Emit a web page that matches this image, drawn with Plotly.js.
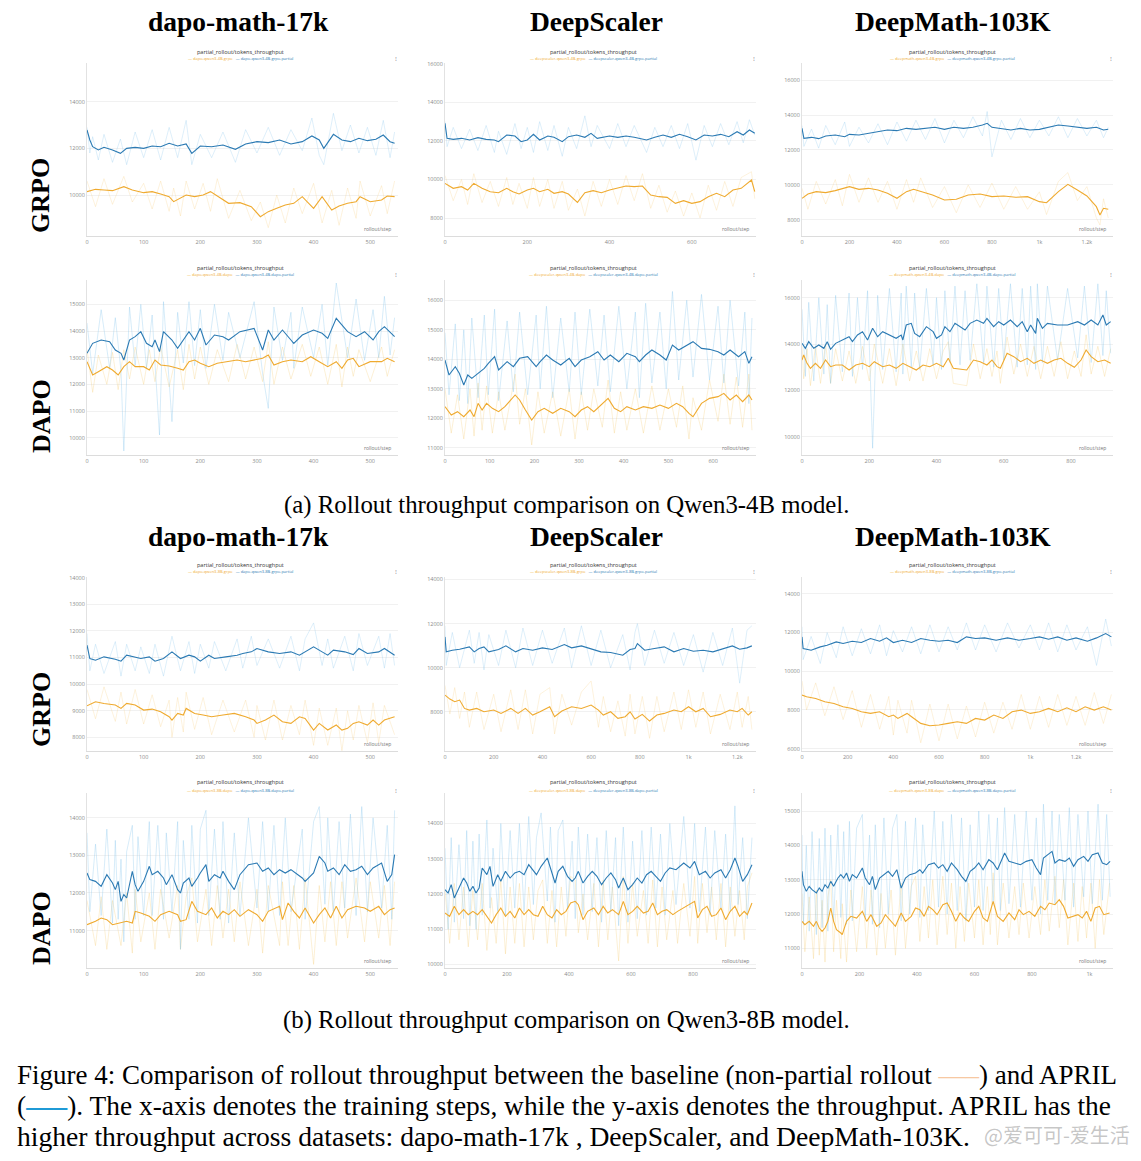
<!DOCTYPE html>
<html><head><meta charset="utf-8">
<script src="https://cdn.plot.ly/plotly-3.0.1.min.js"></script>
<style>html,body{margin:0;padding:0;background:#fff}#chart{width:1141px;height:1161px}</style>
</head><body><div id="chart"></div>
<script>
// ---------- text ----------
const colTitles = ['dapo-math-17k', 'DeepScaler', 'DeepMath-103K'];
const rowLabels = ['GRPO', 'DAPO', 'GRPO', 'DAPO'];
const datasetKeys = ['dapo', 'deepscaler', 'deepmath'];
const rowModels = ['4B', '4B', '8B', '8B'];
const rowAlgos = ['grpo', 'dapo', 'grpo', 'dapo'];
const panelTitle = 'partial_rollout/tokens_throughput';
const xAxisLabel = 'rollout/step';
const subCaptions = ['(a) Rollout throughput comparison on Qwen3-4B model.', '(b) Rollout throughput comparison on Qwen3-8B model.'];

// ---------- tick labels ----------
const xT100 = [0, 100, 200, 300, 400, 500];
const xT100b = [0, 100, 200, 300, 400, 500, 600];
const xT200a = [0, 200, 400, 600];
const xT200b = [0, 200, 400, 600, 800];
const xT200k = [0, 200, 400, 600, 800, 1000, 1200];
const xT200kText = ['0', '200', '400', '600', '800', '1k', '1.2k'];
const xT200k2 = [0, 200, 400, 600, 800, 1000];
const xT200k2Text = ['0', '200', '400', '600', '800', '1k'];
const yT1 = [10000, 12000, 14000];
const yT2 = [8000, 10000, 12000, 14000, 16000];
const yT4 = [10000, 11000, 12000, 13000, 14000, 15000];
const yT5 = [11000, 12000, 13000, 14000, 15000, 16000];
const yT6 = [10000, 12000, 14000, 16000];
const yT7 = [8000, 9000, 10000, 11000, 12000, 13000, 14000];
const yT8 = [8000, 10000, 12000, 14000];
const yT9 = [6000, 8000, 10000, 12000, 14000];
const yT10 = [11000, 12000, 13000, 14000];
const yT11 = [10000, 11000, 12000, 13000, 14000];
const yT12 = [11000, 12000, 13000, 14000, 15000];

// ---------- panel 1: dapo-math-17k, 4B GRPO ----------
const xB1 = [0,5,10,20,30,45,59,70,85,100,115,130,145,160,175,185,200,220,240,262,280,300,320,340,360,380,397,410,418,435,450,465,480,495,510,523,535,543];
const blue1 = [12786,12357,12071,11929,12043,11929,11786,12000,12043,12000,12100,12071,12214,12100,12186,11786,12100,12071,12143,11957,12186,12286,12243,12357,12186,12286,12529,12357,12000,12600,12357,12286,12429,12329,12386,12571,12286,12214];
const blueRaw1 = [12900,11800,12500,11500,12600,11400,12400,11300,12700,11600,12800,11500,12900,11600,13200,11300,12600,11600,12700,11400,12800,11800,12900,11700,12800,11900,13300,11700,11300,13500,11900,13000,11800,12900,11700,13200,11600,12700];
const xO1 = [0,15,30,45,65,80,100,115,130,145,153,165,175,190,205,218,230,250,270,290,306,320,335,350,365,380,400,415,432,445,460,475,482,500,520,530,543];
const orange1 = [10143,10243,10214,10186,10357,10214,10100,10143,10043,9929,9714,9857,10000,9929,10000,10143,9957,9643,9671,9500,9071,9286,9429,9571,9643,9929,9429,9929,9357,9529,9643,9714,9929,9714,9786,9957,9929];
const orangeRaw1 = [10600,9500,10700,9600,10800,9700,10500,9400,10600,9300,10300,9100,10600,9400,10500,9300,10700,9000,10200,8900,9700,8600,10000,8800,10300,9200,10500,8800,10200,8700,10300,9000,10600,9100,10400,9200,10600];

// ---------- panel 2: DeepScaler, 4B GRPO ----------
const xB2 = [0,5,20,40,60,80,100,120,130,150,170,185,200,215,230,250,265,285,300,320,340,355,370,400,420,440,460,490,510,530,550,570,590,610,630,650,670,690,710,725,740,753];
const blue2 = [12911,12133,12081,12133,12046,12167,12081,12046,11960,12306,12254,11960,12046,12340,12046,12254,12185,11960,12219,12306,12185,12392,12133,12254,12185,12254,12185,12046,12185,12306,12185,12340,12219,12046,12306,12254,12340,12219,12478,12306,12565,12392];
const blueRaw2 = [13000,11700,12700,11600,12600,11500,12800,11400,12500,11300,12900,11600,12700,11400,13000,11500,12800,11200,12700,11600,13300,11700,12800,11600,12900,11700,12800,11400,12700,11700,12800,11600,12900,11000,12800,11700,12900,11800,13000,11900,13100,12300];
const xO2 = [0,20,40,55,70,90,110,130,150,165,180,200,215,230,250,265,285,300,322,340,360,380,400,420,440,460,480,500,520,540,560,580,600,620,640,660,680,700,720,745,753];
const orange2 = [9798,9539,9626,9453,9798,9539,9366,9314,9539,9366,9245,9453,9539,9366,9487,9280,9366,9245,8813,9314,9418,9314,9453,9539,9660,9626,9660,9193,9107,9072,8761,8900,8761,8848,9107,9280,9107,9453,9539,9971,9366];
const orangeRaw2 = [10200,8900,10000,8700,10300,8800,9900,8600,10100,8700,9800,8500,10100,8600,10000,8500,9900,8400,9500,8100,9900,8600,10000,8700,10200,8900,10300,8500,9700,8300,9400,8100,9300,8000,9700,8400,9900,8600,10100,10400,9000];

// ---------- panel 3: DeepMath-103K, 4B GRPO ----------
const xB3 = [0,8,40,70,100,140,180,200,240,280,320,360,400,440,480,520,560,600,640,680,720,760,780,800,840,880,920,960,1000,1040,1080,1120,1160,1200,1240,1270,1290];
const blue3 = [13236,12664,12721,12645,12797,12855,12759,12893,12855,12950,13046,13141,13103,13236,13179,13236,13294,13179,13294,13236,13294,13427,13523,13294,13236,13141,13236,13141,13179,13294,13427,13370,13294,13236,13294,13141,13179];
const blueRaw3 = [13400,12200,13200,12100,13400,12300,13600,12200,13300,12400,13500,12300,13600,12500,13700,12600,13800,12400,13700,12700,13900,12800,14200,11600,13700,12600,13800,12700,13700,12800,13900,12700,13800,12800,13700,12700,13300];
const xO3 = [0,25,60,100,140,170,200,240,280,320,360,400,440,470,500,550,600,650,700,750,800,850,900,950,1000,1030,1080,1120,1160,1200,1240,1255,1270,1290];
const orange3 = [9228,9476,9609,9552,9667,9800,9896,9743,9800,9705,9514,9228,9609,9743,9609,9418,9132,9170,9418,9476,9323,9361,9285,9323,9037,8979,9609,10029,9705,9361,8750,8273,8655,8598];
const orangeRaw3 = [9800,8600,10200,8900,10300,8800,10600,9000,10400,9000,10200,8600,10300,9000,10400,8700,9900,8400,10000,8700,10100,8600,9900,8600,9600,8300,10200,10700,9100,9900,8100,7700,9200,8100];

// ---------- panel 4: dapo-math-17k, 4B DAPO ----------
const xB4 = [0,10,25,40,50,60,65,75,85,95,105,115,120,128,135,150,160,170,180,190,200,210,225,240,250,270,295,310,320,330,345,360,365,380,400,415,425,440,460,475,490,505,515,525,535,543];
const blue4 = [13163,13538,13663,13600,13288,13163,12913,13663,13788,13975,13538,13413,13663,13225,13975,13663,13350,13663,13975,13663,14100,13475,13850,13788,13663,13975,14100,13288,14038,13663,14038,13663,13538,13850,14038,13913,13725,14475,13975,13788,13975,13663,13975,14163,13975,13788];
const blueRaw4 = [14300,12400,14800,12600,14500,12500,9500,14900,12700,15000,12600,14600,12800,10100,15100,10600,14700,12800,15100,12700,14800,12600,15000,12900,14700,13000,15100,12400,11100,14900,12900,14700,12600,14900,13000,15000,12700,15800,13000,15200,12900,14800,13000,15300,13100,14500];
const xO4 = [0,10,20,35,45,55,65,75,85,100,110,120,130,145,160,170,180,190,200,215,230,250,265,280,295,310,320,330,345,360,380,395,410,425,440,450,460,470,480,500,520,530,543];
const orange4 = [12850,12350,12475,12663,12538,12350,12663,12850,12663,12663,12538,12913,12725,12688,12600,12538,12850,12913,12788,12663,12788,12850,12913,12850,12913,12975,13100,12725,12850,12913,12850,13038,12850,12663,12850,12600,12913,12975,12663,12850,12850,12975,12850];
const orangeRaw4 = [13300,11700,13100,12000,13200,11800,13300,12200,13400,12000,13300,12100,13400,11900,13300,11800,13500,12200,13400,12000,13300,12100,13500,12200,13400,12100,13600,12000,13400,12200,13500,12300,13400,12000,13500,11900,13400,12300,13300,12100,13400,12300,13300];

// ---------- panel 5: DeepScaler, 4B DAPO ----------
const xB5 = [0,9,23,32,42,51,60,74,88,97,111,120,139,153,167,185,204,213,227,241,259,278,291,305,324,342,356,370,389,407,426,435,449,463,481,495,509,523,541,555,574,592,611,624,638,657,671,680,687];
const blue5 = [13977,13469,13752,13526,13131,13469,13356,13526,13695,13865,14090,13639,13921,13752,14034,14090,13752,13921,14147,13977,13808,14034,13752,13977,14090,14260,13977,14147,13921,14203,14090,13921,14147,14316,14147,13977,14485,14316,14485,14598,14372,14339,14260,14147,14316,14090,14260,13865,14090];
const blueRaw5 = [14900,12800,15200,12600,15000,12500,15400,12700,15500,12800,15700,12600,15300,12900,15600,12800,15500,13000,15800,12700,15400,12900,15600,12800,15700,13100,15500,12900,15800,13000,15600,12700,15900,13200,15600,13000,16300,13300,16000,13400,16200,13300,15800,13200,16000,13100,15600,12500,15400];
const xO5 = [0,14,28,42,56,65,74,83,93,106,120,134,157,167,180,194,208,222,241,259,278,291,305,319,333,352,365,379,393,407,426,444,463,481,500,518,532,546,555,574,592,611,624,638,652,666,680,687];
const orange5 = [12397,12115,12227,12058,12284,12058,12510,12284,12510,12340,12227,12397,12792,12623,12284,11945,12227,12340,12171,12340,12227,12058,12284,12397,12227,12510,12679,12340,12227,12397,12284,12397,12340,12453,12340,12510,12397,12171,12058,12510,12679,12736,12848,12623,12792,12566,12792,12623];
const orangeRaw5 = [13000,11500,12800,11300,13000,11400,13200,11600,13100,11500,12900,11600,13500,11800,13000,11100,12900,11500,12900,11400,13000,11300,12900,11600,13000,11700,13300,11500,12900,11600,13000,11500,13100,11600,13000,11700,13100,11300,12700,11600,13300,11900,13500,11800,13400,11700,13500,11600];

// ---------- panel 6: DeepMath-103K, 4B DAPO ----------
const xB6 = [0,10,20,35,50,65,75,85,100,120,140,150,165,180,195,210,225,240,260,280,295,300,310,325,335,350,370,390,400,415,425,440,455,470,485,500,520,540,550,570,585,600,620,640,655,670,680,695,700,715,730,760,790,820,840,860,880,895,905,918];
const blue6 = [14029,13813,14101,13813,13957,13813,14101,13770,14029,14173,14317,14101,14389,14532,14173,14676,14317,14532,14389,14245,14389,14173,14820,14892,14460,14317,14748,14532,14245,14389,14748,14532,14892,14748,14604,14892,15036,14892,15108,14748,14964,14820,15036,14748,14964,14532,14820,14460,15108,14676,14892,14820,14820,14964,14820,15036,14820,15252,14820,14964];
const blueRaw6 = [15500,12600,15800,12400,16000,12700,15700,12300,16100,12800,16200,12600,16000,12900,16300,9500,16100,12900,16400,12800,16200,12700,16500,13000,16200,12900,16400,13100,16000,12900,16300,13200,16500,13100,16300,13300,16600,13200,16500,13000,16400,13300,16600,13000,16400,13100,16500,12900,16600,13200,16500,13300,16400,13400,16500,13200,16600,13500,16300,13600];
const xO6 = [0,5,15,25,40,55,70,85,100,120,140,160,180,200,215,240,260,280,300,320,340,360,380,400,420,435,450,490,510,530,550,565,580,590,610,630,650,670,690,710,730,750,770,790,810,830,845,860,880,900,918];
const orange6 = [13309,13525,13165,12950,13165,12950,13309,13021,13093,13093,12878,13093,13165,13021,13237,13021,13093,12950,13165,13021,12878,13093,13021,13165,13021,13381,12950,12878,13309,13237,13093,13309,13021,12950,13597,13453,13237,13381,13165,13309,13165,13309,13381,13165,12993,13309,13741,13453,13237,13309,13165];
const orangeRaw6 = [13900,12500,13800,12200,13900,12300,14000,12300,13800,12400,13700,12300,13900,12400,14000,12300,13800,12200,14000,12400,13700,12400,13800,12500,13700,14100,12300,12200,14000,12500,13800,12600,13700,12300,14300,12700,14000,12600,13900,12500,13900,12600,14100,12500,13700,12600,14400,12700,13900,12600,13800];

// ---------- panel 7: dapo-math-17k, 8B GRPO ----------
const xB7 = [0,5,15,30,50,60,70,85,95,110,120,135,150,165,180,190,200,215,225,245,265,275,290,300,320,340,360,375,385,400,415,425,435,455,470,480,495,515,525,535,543];
const blue7 = [11463,10963,10900,11025,10938,10863,11088,11025,10963,11025,10863,10963,11213,10963,11088,11025,10863,11088,10963,11025,11088,11150,11213,11338,11213,11150,11213,11088,11213,11400,11213,11088,11275,11213,11113,11338,11150,11213,11338,11213,11088];
const blueRaw7 = [11900,10500,11500,10400,11600,10300,11500,10500,11400,10400,11500,10300,11800,10500,11600,10400,11500,10600,11600,10500,11700,10600,11800,10700,11700,10600,11800,10500,11700,12300,10700,11700,10600,11800,10500,11900,10700,11800,10600,11900,10700];
const xO7 = [0,15,30,50,60,70,85,100,115,130,145,150,160,170,175,190,205,220,240,260,280,295,300,315,330,345,360,375,385,400,410,425,440,450,460,470,480,495,505,515,525,543];
const orange7 = [9188,9338,9275,9213,9088,9275,9213,9025,9063,8963,8775,8650,8900,8838,9088,8900,8838,8775,8838,8900,8775,8650,8525,8650,8838,8588,8525,8775,8713,8275,8525,8275,8463,8275,8338,8525,8588,8463,8650,8463,8650,8775];
const orangeRaw7 = [9800,8700,9900,8600,9700,8500,9800,8500,9600,8400,9400,8000,9500,8200,9700,8300,9500,8100,9400,8200,9400,8000,9200,7900,9400,7900,9200,8100,9400,7700,9100,7700,9100,7500,9000,7900,9200,7800,9300,7800,9200,8100];

// ---------- panel 8: DeepScaler, 8B GRPO ----------
const xB8 = [0,5,30,60,100,120,140,160,180,220,250,290,320,360,400,440,490,520,560,600,640,680,730,760,780,790,820,860,900,940,980,1020,1060,1100,1140,1180,1210,1240,1260];
const blue8 = [11397,10719,10794,10840,10945,10719,10870,10945,10719,10825,10990,10719,10870,10794,10900,10825,11051,10900,10990,10870,10719,10689,10568,10825,10870,11096,10794,10870,10945,10719,10870,10749,10794,10719,10870,10990,10840,10900,10990];
const blueRaw8 = [11900,10100,11600,10000,11700,10200,11600,9900,11500,10100,11700,10000,11800,10100,11700,10200,11800,10000,11900,10100,11700,10000,11500,9900,11600,12000,10100,11700,10200,11600,10100,11500,9800,11600,10100,11800,9300,11700,11900];
const xO8 = [0,20,40,60,80,100,130,160,200,230,270,300,330,360,390,430,450,480,520,560,600,630,650,680,710,740,760,780,810,840,870,900,940,970,1000,1030,1060,1090,1130,1170,1200,1220,1245,1260];
const orange8 = [8760,8579,8459,8534,8157,8082,8157,8006,8082,7931,8157,7931,8157,7856,8006,8233,7780,8037,8233,8157,8308,8082,7856,8006,7705,7780,8006,7675,7886,7585,7856,7931,8082,8006,8233,8006,8157,7780,7886,8082,8006,8157,7856,8006];
const orangeRaw8 = [9200,7900,9100,7700,8900,7300,8900,7200,8800,7100,9000,7200,9000,7000,8800,9100,7000,8800,7400,8900,9400,7300,8700,7100,8500,6900,8800,7000,8700,6800,8700,7100,8900,7200,9000,7300,8900,7000,8800,7200,8900,7300,8700,7200];

// ---------- panel 9: DeepMath-103K, 8B GRPO ----------
const xB9 = [0,5,40,80,110,150,180,220,260,300,340,370,400,440,480,520,560,600,640,680,720,760,800,850,900,950,1000,1040,1080,1120,1160,1200,1250,1290,1330,1355];
const blue9 = [11776,11174,11088,11260,11346,11518,11432,11553,11484,11690,11553,11725,11484,11604,11484,11690,11604,11553,11604,11484,11776,11690,11725,11604,11725,11604,11690,11776,11656,11776,11604,11725,11553,11725,11948,11776];
const blueRaw9 = [12300,10600,11800,10400,12000,10700,12300,10800,12200,10900,12400,10800,12100,11000,12300,10900,12400,11000,12300,11100,12500,11100,12400,11000,12500,11200,12400,11100,12500,11000,12400,11100,12300,10300,12700,11300];
const xO9 = [0,20,60,100,140,180,220,260,300,340,380,400,420,460,480,520,560,600,640,680,720,760,800,840,880,920,960,1000,1040,1080,1120,1160,1200,1240,1280,1320,1355];
const orange9 = [8766,8680,8594,8422,8336,8164,8078,7906,7820,7906,7648,7734,7562,7820,7648,7304,7184,7218,7304,7390,7304,7562,7476,7734,7562,7906,7992,7820,7906,8078,7906,8113,7906,8164,7992,8164,7992];
const orangeRaw9 = [9500,8000,9400,7700,9200,7500,9000,7100,8800,7000,8700,6700,8500,6800,8500,6300,8300,6400,8300,6500,8200,6600,8400,6800,8400,7000,8800,7000,8700,7100,8800,7200,8700,7200,8900,7300,8800];

// ---------- panel 10: dapo-math-17k, 8B DAPO ----------
const xB10 = [0,5,15,25,35,45,50,55,60,65,70,80,85,90,100,110,115,125,135,140,150,160,165,170,180,185,195,200,210,215,225,235,240,250,260,270,285,300,310,320,330,340,350,360,380,385,400,410,420,425,435,445,455,465,475,485,495,505,520,530,538,543];
const blue10 = [12532,12355,12310,12177,12488,12266,12089,12310,11778,11956,11867,12577,12222,12044,12310,12710,12488,12577,12399,12222,12488,12089,12000,12266,12399,12177,12399,12532,12754,12310,12488,12399,12577,12310,12089,12488,12754,12798,12577,12665,12488,12621,12532,12621,12399,12310,12532,12976,12798,12577,12665,12488,12754,12577,12621,12710,12488,12665,12798,12310,12488,13020];
const blueRaw10 = [13600,11500,13300,11400,13700,11200,13400,11300,12900,10700,13100,13800,11300,13500,11400,13900,11400,13800,11300,13600,11500,13900,10500,13400,11300,13800,11200,13700,14200,11400,13700,11300,13900,11200,13600,11400,14000,11600,13900,11500,13800,11400,14000,11500,13700,11300,13900,14300,11700,14000,11500,13900,11600,14100,11400,14300,11500,14000,11600,13800,11300,14200];
const xO10 = [0,15,25,35,45,60,70,80,85,95,110,120,130,145,160,165,175,185,195,210,220,230,240,250,260,270,285,300,310,320,340,345,355,365,375,385,400,410,420,430,440,450,460,475,490,500,515,525,535,543];
const orange10 = [11157,11246,11335,11290,11157,11202,11246,11202,11512,11468,11379,11246,11423,11512,11423,11246,11290,11778,11512,11423,11601,11335,11512,11423,11556,11379,11556,11423,11246,11512,11645,11290,11734,11512,11335,11601,11202,11423,11601,11335,11645,11335,11556,11645,11601,11512,11645,11423,11556,11601];
const orangeRaw10 = [11800,10600,11900,10500,11800,10600,12000,10400,12100,10700,12000,10500,12100,10800,12200,10500,11900,12400,10700,12100,10600,12200,10800,12100,10700,12300,10600,12100,10400,12200,10600,12300,10600,12200,10500,12400,10100,12200,10700,12300,10600,12300,10800,12400,10700,12300,10800,12200,10600,12300];

// ---------- panel 11: DeepScaler, 8B DAPO ----------
const xB11 = [0,10,20,30,45,60,70,80,90,100,110,120,135,145,155,170,180,195,210,225,240,255,270,285,295,310,330,340,355,365,380,395,410,420,430,445,460,475,490,505,520,535,550,560,575,590,605,620,635,650,665,680,695,710,725,745,770,790,805,820,840,855,870,890,905,920,935,945,960,975,990];
const blue11 = [12123,12028,12265,11887,12170,12454,12312,12076,12217,12028,12170,12738,12548,12785,12217,12548,12359,12643,12454,12596,12643,12548,12832,12643,12548,12785,13021,12738,12312,12643,12785,12501,12359,12454,12643,12312,12501,12643,12501,12265,12454,12596,12407,12170,12454,12123,12265,12454,12312,12548,12643,12501,12359,12596,12738,12690,12879,12738,12927,12548,12643,12454,12596,12690,12454,12690,13021,12785,12359,12548,12832];
const blueRaw11 = [13300,11000,13600,11200,13400,11300,13800,11100,13500,11000,13700,11400,14100,11600,13300,11500,14000,11400,13800,11600,14000,11500,14200,11700,13600,14300,11800,13900,11200,13800,14100,11600,13500,11300,13900,11400,13700,11500,13600,11200,13800,11500,13600,11100,13900,11200,13500,11300,13800,11400,13900,11600,13700,11400,14000,11700,14200,11600,14000,11500,13900,11400,13800,11600,13700,11500,14500,11700,13600,11300,13600];
const xO11 = [0,15,30,45,60,75,90,105,120,135,150,165,180,195,210,225,240,255,270,285,300,315,330,345,360,375,390,405,420,430,445,460,480,495,510,525,540,560,575,590,605,620,640,655,670,685,700,715,735,750,770,790,805,815,830,845,860,875,890,905,920,935,950,965,975,990];
const orange11 = [11461,11366,11650,11414,11556,11414,11508,11414,11556,11366,11177,11414,11603,11366,11508,11319,11603,11414,11556,11414,11366,11650,11414,11319,11556,11414,11508,11745,11792,11697,11272,11508,11603,11414,11650,11461,11556,11414,11792,11414,11508,11650,11461,11508,11745,11414,11508,11556,11414,11508,11603,11697,11792,11319,11556,11650,11366,11414,11603,11272,11508,11650,11366,11508,11414,11745];
const orangeRaw11 = [12100,10600,12300,10700,12200,10500,12100,10700,12300,10400,11900,10600,12400,10300,12200,10600,12300,10500,12200,10700,12100,12400,10600,12100,10500,12200,10800,12500,12400,10900,12000,10700,12300,10500,12400,10700,12200,10100,12500,10600,12300,10800,12100,10600,12400,10500,12200,10700,12100,10600,12300,10800,12500,10600,12300,10900,12200,10700,12300,10500,12200,10800,12100,10700,12200,12600];

// ---------- panel 12: DeepMath-103K, 8B DAPO ----------
const xB12 = [0,5,15,25,35,50,60,70,80,90,100,110,125,135,145,155,165,175,190,210,220,235,245,255,270,285,300,315,330,345,360,375,395,410,420,440,460,475,490,505,520,540,555,570,585,600,615,630,650,665,680,690,705,720,740,760,780,800,815,830,840,855,870,880,895,915,930,945,960,980,995,1010,1030,1045,1060,1072];
const blue12 = [13243,12854,12660,12806,12709,12612,12757,12660,12854,12757,12951,12806,13049,13146,13049,13194,12951,13146,13049,13340,13049,12854,13097,12709,13049,13146,13243,13097,13291,12757,13049,13146,13194,13291,13194,13437,13486,13340,13437,13243,13486,13291,13097,12951,13243,13340,13486,13291,13583,13486,13291,13486,13777,13534,13486,13437,13534,13583,13340,13146,13631,13728,13825,13486,13583,13534,13631,13388,13583,13680,13534,13728,13777,13486,13437,13534];
const blueRaw12 = [14300,11700,14000,11500,14400,11400,14200,11600,14500,11500,14300,11800,14600,11900,14400,11700,14700,11800,14500,14900,11900,14300,11700,14600,11600,14800,12000,14500,14900,11800,14700,12000,14800,11900,14600,12100,15000,12200,14700,12000,14900,12100,14800,11800,14600,12200,15000,12100,14900,12300,14800,12100,15100,12300,14900,12200,15000,12400,14800,12000,15200,12400,15000,12300,14900,12400,15100,12200,14900,12500,15000,12300,15200,12400,14900,12500];
const xO12 = [0,10,25,40,50,60,70,80,90,100,110,120,135,140,155,170,190,210,225,240,260,275,290,310,325,345,360,380,395,410,425,440,455,470,490,505,520,535,550,565,580,600,615,630,645,655,665,680,700,720,740,755,770,790,810,830,845,860,880,895,910,925,945,960,975,990,1005,1020,1035,1050,1070];
const orange12 = [11786,11689,11786,11641,11786,11592,11495,11592,11786,12175,11786,11544,11446,11398,11786,11932,11883,12078,11786,11981,11641,11738,11981,11786,11641,12029,11786,11932,12175,12126,11932,12223,12126,11981,12272,12320,12078,11786,12029,11883,11786,12078,12223,11883,11786,12078,12369,11932,11786,12029,11835,12126,11981,12078,11932,12223,12126,12320,12272,12417,12223,11883,11932,11981,11883,12078,11786,12175,12223,11981,12029];
const orangeRaw12 = [12600,10900,12500,10700,12700,10800,12400,10600,12500,13000,10900,12400,10700,12300,10600,12700,10900,12800,11000,12700,10800,12600,11000,12700,10800,12900,11000,12800,13100,11200,12800,11300,13000,11100,13100,11400,12900,11000,12800,11200,12900,11300,13000,11100,12800,11400,13200,11100,12900,11300,12800,11400,12900,11300,12800,11400,13000,11500,13100,11600,13000,11100,12900,11200,12800,11300,12900,11000,13000,11400,12900];

// ---------- assemble ----------
const series = [
  [xB1, blue1, blueRaw1, xO1, orange1, orangeRaw1],
  [xB2, blue2, blueRaw2, xO2, orange2, orangeRaw2],
  [xB3, blue3, blueRaw3, xO3, orange3, orangeRaw3],
  [xB4, blue4, blueRaw4, xO4, orange4, orangeRaw4],
  [xB5, blue5, blueRaw5, xO5, orange5, orangeRaw5],
  [xB6, blue6, blueRaw6, xO6, orange6, orangeRaw6],
  [xB7, blue7, blueRaw7, xO7, orange7, orangeRaw7],
  [xB8, blue8, blueRaw8, xO8, orange8, orangeRaw8],
  [xB9, blue9, blueRaw9, xO9, orange9, orangeRaw9],
  [xB10, blue10, blueRaw10, xO10, orange10, orangeRaw10],
  [xB11, blue11, blueRaw11, xO11, orange11, orangeRaw11],
  [xB12, blue12, blueRaw12, xO12, orange12, orangeRaw12]
];

// layout config (positions in px of the 1141x1161 canvas)
const W = 1141, H = 1161;
const colPx = [[87, 398], [445, 756], [802, 1113]];
const rowPx = [[63, 236], [280, 455], [577, 751], [793, 968]];
const titlePy = [52, 268, 565, 782];
const legendPy = [58, 275, 571, 790];
const colCenterPx = [240, 593, 952];
const xRanges = [[0,549],[0,756],[0,1310],[0,549],[0,696],[0,925],[0,549],[0,1277],[0,1362],[0,549],[0,1003],[0,1082]];
const yRanges = [[8243,15657],[7067,16040],[7070,16978],[9350,15913],[10760,16687],[9208,16763],[7488,14025],[6228,14110],[5877,14872],[10004,14661],[9901,14865],[10427,15525]];
const xTickSets = [[xT100],[xT200a],[xT200k,xT200kText],[xT100],[xT100b],[xT200b],[xT100],[xT200k,xT200kText],[xT200k,xT200kText],[xT100],[xT200b],[xT200k2,xT200k2Text]];
const yTickSets = [yT1,yT2,yT2,yT4,yT5,yT6,yT7,yT8,yT9,yT10,yT11,yT12];

const C = {
  blue: '#2b7ab3', orange: '#efaa2f',
  blueRawG: 'rgba(120,192,234,0.42)', orangeRawG: 'rgba(246,204,118,0.42)',
  blueRawD: 'rgba(120,192,234,0.5)', orangeRawD: 'rgba(246,204,118,0.5)'
};

const traces = [];
const layout = {
  width: W, height: H,
  margin: {l: 0, r: 0, t: 0, b: 0},
  paper_bgcolor: '#fff', plot_bgcolor: '#fff',
  showlegend: false,
  annotations: []
};
const tickFont = {family: 'Open Sans, sans-serif', size: 5.5, color: '#8a8a8a'};

for (let i = 0; i < 12; i++) {
  const r = Math.floor(i / 3), c = i % 3;
  const sfx = i === 0 ? '' : String(i + 1);
  const xa = 'x' + sfx, ya = 'y' + sfx;
  const [xB, b, bRaw, xO, o, oRaw] = series[i];
  const base = datasetKeys[c] + '-qwen3-' + rowModels[r] + '-' + rowAlgos[r];
  const isDapo = rowAlgos[r] === 'dapo';
  traces.push({x: xO, y: oRaw, xaxis: xa, yaxis: ya, mode: 'lines', line: {color: isDapo ? C.orangeRawD : C.orangeRawG, width: 0.6}, name: base + ' raw', hoverinfo: 'skip'});
  traces.push({x: xB, y: bRaw, xaxis: xa, yaxis: ya, mode: 'lines', line: {color: isDapo ? C.blueRawD : C.blueRawG, width: 0.6}, name: base + '-partial raw', hoverinfo: 'skip'});
  traces.push({x: xO, y: o, xaxis: xa, yaxis: ya, mode: 'lines', line: {color: C.orange, width: 1.1}, name: base});
  traces.push({x: xB, y: b, xaxis: xa, yaxis: ya, mode: 'lines', line: {color: C.blue, width: 1.1}, name: base + '-partial'});

  const xt = xTickSets[i];
  layout['xaxis' + sfx] = {
    domain: [colPx[c][0] / W, colPx[c][1] / W], anchor: ya, range: xRanges[i],
    tickmode: 'array', tickvals: xt[0], ticktext: xt[1] || xt[0].map(String),
    showgrid: false, zeroline: false, showline: true, linecolor: '#dcdcdc', linewidth: 1,
    ticks: '', tickfont: tickFont, fixedrange: true
  };
  layout['yaxis' + sfx] = {
    domain: [1 - rowPx[r][1] / H, 1 - rowPx[r][0] / H], anchor: xa, range: yRanges[i],
    tickmode: 'array', tickvals: yTickSets[i], ticktext: yTickSets[i].map(String),
    showgrid: true, gridcolor: '#f1f1f1', gridwidth: 1, zeroline: false,
    showline: true, linecolor: '#e2e2e2', linewidth: 1,
    ticks: '', tickfont: tickFont, fixedrange: true
  };
  layout.annotations.push({
    xref: 'paper', yref: 'paper', x: colCenterPx[c] / W, y: 1 - titlePy[r] / H,
    text: panelTitle, showarrow: false, xanchor: 'center', yanchor: 'middle',
    font: {family: 'Open Sans, sans-serif', size: 5.5, color: '#333'}
  });
  layout.annotations.push({
    xref: 'paper', yref: 'paper', x: colCenterPx[c] / W, y: 1 - legendPy[r] / H,
    text: '<span style="color:' + C.orange + '">— ' + base + '</span>   <span style="color:' + C.blue + '">— ' + base + '-partial</span>',
    showarrow: false, xanchor: 'center', yanchor: 'middle',
    font: {family: 'Open Sans, sans-serif', size: 4, color: '#555'}
  });
  layout.annotations.push({
    xref: 'paper', yref: 'paper', x: (colPx[c][1] + 1) / W, y: 1 - (legendPy[r]) / H,
    text: '⁝', showarrow: false, xanchor: 'right', yanchor: 'middle',
    font: {family: 'DejaVu Sans', size: 6, color: '#666'}
  });
  layout.annotations.push({
    xref: xa + ' domain', yref: ya + ' domain', x: 0.985, y: 0.012,
    text: xAxisLabel, showarrow: false, xanchor: 'right', yanchor: 'bottom',
    font: {family: 'Open Sans, sans-serif', size: 5, color: '#777'}
  });
}

const serif = 'Liberation Serif, Times New Roman, serif';
[22, 536].forEach(py => {
  colTitles.forEach((t, c) => {
    layout.annotations.push({
      xref: 'paper', yref: 'paper', x: [238, 596, 953][c] / W, y: 1 - py / H,
      text: '<b>' + t + '</b>', showarrow: false, xanchor: 'center', yanchor: 'middle',
      font: {family: serif, size: 27.5, color: '#000'}
    });
  });
});
[196, 416, 710, 928].forEach((py, r) => {
  layout.annotations.push({
    xref: 'paper', yref: 'paper', x: 41 / W, y: 1 - py / H,
    text: '<b>' + rowLabels[r] + '</b>', showarrow: false, textangle: -90,
    xanchor: 'center', yanchor: 'middle',
    font: {family: serif, size: 26, color: '#000'}
  });
});
[505, 1020].forEach((py, k) => {
  layout.annotations.push({
    xref: 'paper', yref: 'paper', x: 566 / W, y: 1 - py / H,
    text: subCaptions[k], showarrow: false, xanchor: 'center', yanchor: 'middle',
    font: {family: serif, size: 24.8, color: '#000'}
  });
});
const capLines = [
  'Figure 4: Comparison of rollout throughput between the baseline (non-partial rollout <span style="color:#f7c8a2">—–</span>) and APRIL',
  '(<span style="color:#1f9ad6"><b>—–</b></span>). The x-axis denotes the training steps, while the y-axis denotes the throughput. APRIL has the',
  'higher throughput across datasets: dapo-math-17k , DeepScaler, and DeepMath-103K.'
];
const capSizes = [27, 27.4, 27.6];
[1075, 1106, 1136].forEach((py, k) => {
  layout.annotations.push({
    xref: 'paper', yref: 'paper', x: 15 / W, y: 1 - py / H,
    text: capLines[k], showarrow: false, xanchor: 'left', yanchor: 'middle',
    font: {family: serif, size: capSizes[k], color: '#000'}
  });
});
layout.annotations.push({
  xref: 'paper', yref: 'paper', x: 1132 / W, y: 1 - 1134 / H,
  text: '@爱可可-爱生活', showarrow: false, xanchor: 'right', yanchor: 'middle',
  font: {family: 'Noto Sans CJK SC', size: 20, color: 'rgba(150,150,150,0.55)'}
});

Plotly.newPlot('chart', traces, layout, {staticPlot: true, displayModeBar: false});
</script></body></html>
